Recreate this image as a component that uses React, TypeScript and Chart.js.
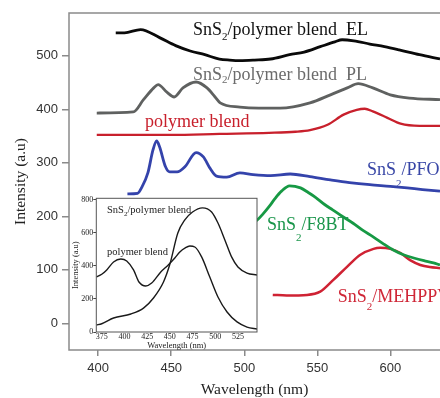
import React, { useEffect, useRef } from 'react';
import { Chart, registerables } from 'chart.js';

Chart.register(...registerables);

// ---- main chart data ----
const xTicks = [400, 450, 500, 550, 600];
const yTicks = [0, 100, 200, 300, 400, 500];

const elX = [412, 418, 429, 442, 453, 463, 473, 483, 490, 497, 507, 518, 531, 541, 552, 562, 567, 575, 586, 596, 606, 620, 634];
const elY = [543, 543, 549, 534, 519, 509, 502, 494, 492, 491, 492, 494, 502, 507, 517, 526, 530, 528, 522, 517, 511, 502, 494];

const plX = [399, 424, 431, 438, 441, 447, 452, 458, 467, 474.5, 480, 483.5, 497, 510, 524.5, 545, 559, 570.5, 578, 588, 600, 613, 634];
const plY = [393, 395, 418, 440, 446, 432, 423, 440, 451, 440, 423, 412, 404, 402, 402, 412, 427, 440, 448, 440, 427, 421, 418];

const blendX = [399, 450, 483, 517, 535, 545, 557, 568, 577, 582.5, 588, 598, 607, 620, 634];
const blendY = [352, 352, 354, 356, 358, 361, 371, 390, 399, 401, 396, 384, 373, 369, 369];

const pfoX = [420, 427, 430, 434, 437.5, 440, 442, 446, 449, 454, 459.5, 467, 472, 476.5, 481, 488, 497, 506, 518, 531.5, 545, 559, 572, 586, 600, 611.5, 622, 634];
const pfoY = [242, 243, 255, 281, 324, 341, 330, 293, 283, 283, 293, 319, 311, 290, 275, 273, 281, 278, 276, 279, 274, 268, 263, 259, 256, 253, 250, 247];

const f8btX = [505, 508.5, 513, 517.5, 521, 525.5, 531, 538.5, 544, 549, 555, 560.5, 567, 574.5, 581, 588, 595, 602, 609, 616, 623, 629.5, 634];
const f8btY = [186, 192, 205, 220, 233, 247, 257, 253, 244, 235, 222, 212, 200, 187, 174, 162, 149, 137, 128, 122, 117, 113, 109];

const mehX = [519.5, 529, 543, 552, 561, 570.5, 579.5, 588.5, 593, 600, 607, 613.5, 620.5, 627, 634];
const mehY = [53, 52, 53, 59, 81, 106, 128, 139, 141, 139, 131, 118, 109, 105, 103];

// ---- inset data ----
const insetXTicks = [375, 400, 425, 450, 475, 500, 525];
const insetYTicks = [0, 200, 400, 600, 800];

const insetAX = [369, 375, 380.5, 388, 396, 402.5, 410, 416, 423.5, 430, 440, 448, 455.5, 461, 467, 472, 477.5, 485, 494, 503, 513, 524, 535, 546];
const insetAY = [333, 350, 376, 424, 442, 430, 376, 303, 279, 297, 364, 405, 448, 485, 510, 521, 515, 455, 333, 212, 121, 61, 30, 18];

const insetBX = [369, 375, 388, 407, 421, 432, 443, 450, 458.8, 466.5, 475, 486, 496, 503, 510.6, 518, 525, 535, 546];
const insetBY = [42, 50, 85, 109, 145, 206, 303, 410, 600, 679, 727, 752, 727, 660, 558, 455, 394, 357, 345];

// ---- text labels (anchor = left / baseline, in data units) ----
const mainLabels = [
  { pre: 'SnS', sub: '2', post: '/polymer blend  EL', x: 464.9, y: 538, color: '#111111', drop: 4.5 },
  { pre: 'SnS', sub: '2', post: '/polymer blend  PL', x: 464.9, y: 455, color: '#6b6b6b', drop: 3 },
  { pre: '', sub: '', post: 'polymer blend', x: 432, y: 366, color: '#c8202c', drop: 0 },
  { pre: 'SnS', sub: '2', post: '/PFO', x: 584, y: 277, color: '#3846a6', drop: 12 },
  { pre: 'SnS', sub: '2', post: '/F8BT', x: 515.6, y: 174, color: '#19954a', drop: 11 },
  { pre: 'SnS', sub: '2', post: '/MEHPPV', x: 564, y: 40, color: '#cf2636', drop: 8 },
];

const insetLabels = [
  { pre: 'SnS', sub: '2', post: '/polymer blend', x: 380.8, y: 718, color: '#222222', drop: 3 },
  { pre: '', sub: '', post: 'polymer blend', x: 380.8, y: 464, color: '#222222', drop: 0 },
];

const pts = (xs: number[], ys: number[]) => xs.map((x, i) => ({ x, y: ys[i] }));

function drawLabels(chart: any, labels: any[], mainFont: string, subFont: string) {
  const ctx = chart.ctx;
  const xs = chart.scales.x;
  const ys = chart.scales.y;
  ctx.save();
  ctx.textAlign = 'left';
  ctx.textBaseline = 'alphabetic';
  for (const lab of labels) {
    let px = xs.getPixelForValue(lab.x);
    const py = ys.getPixelForValue(lab.y);
    ctx.fillStyle = lab.color;
    if (lab.pre) {
      ctx.font = mainFont;
      ctx.fillText(lab.pre, px, py);
      px += ctx.measureText(lab.pre).width;
    }
    if (lab.sub) {
      ctx.font = subFont;
      ctx.fillText(lab.sub, px, py + lab.drop);
      px += ctx.measureText(lab.sub).width;
    }
    ctx.font = mainFont;
    ctx.fillText(lab.post, px, py);
  }
  ctx.restore();
}

const lineDs = (label: string, xs: number[], ys: number[], color: string, width: number) => ({
  label,
  data: pts(xs, ys),
  borderColor: color,
  backgroundColor: color,
  borderWidth: width,
  pointRadius: 0,
  fill: false,
  cubicInterpolationMode: 'monotone' as const,
});

export default function App() {
  const mainRef = useRef<HTMLCanvasElement>(null);
  const insetRef = useRef<HTMLCanvasElement>(null);

  useEffect(() => {
    const framePlugin = {
      id: 'mainFrame',
      afterDraw(chart: any) {
        const { ctx, chartArea } = chart;
        ctx.save();
        ctx.strokeStyle = '#8a8a8a';
        ctx.lineWidth = 1.5;
        ctx.strokeRect(chartArea.left, chartArea.top, chartArea.right - chartArea.left + 20, chartArea.bottom - chartArea.top);
        ctx.restore();
        drawLabels(chart, mainLabels, '18px "Liberation Serif"', '11px "Liberation Serif"');
      },
    };

    const main = new Chart(mainRef.current as HTMLCanvasElement, {
      type: 'line',
      data: {
        datasets: [
          lineDs('EL', elX, elY, '#0a0a0a', 2.8),
          lineDs('PL', plX, plY, '#5f6160', 2.8),
          lineDs('blend', blendX, blendY, '#c8202c', 2.3),
          lineDs('PFO', pfoX, pfoY, '#3443ab', 2.8),
          lineDs('F8BT', f8btX, f8btY, '#179944', 2.8),
          lineDs('MEHPPV', mehX, mehY, '#cf2233', 2.5),
        ],
      },
      options: {
        animation: false,
        responsive: false,
        layout: { padding: { top: 13, left: 0, right: 0, bottom: 0 } },
        plugins: { legend: { display: false }, tooltip: { enabled: false }, title: { display: false } },
        scales: {
          x: {
            type: 'linear',
            min: 380,
            max: 634,
            afterBuildTicks: (s: any) => { s.ticks = xTicks.map((v) => ({ value: v })); },
            afterFit: (s: any) => { s.height = 48; },
            grid: { display: true, drawOnChartArea: false, drawTicks: true, tickLength: 6, color: '#8a8a8a', lineWidth: 1.5 },
            border: { display: false },
            ticks: { padding: 5, color: '#333333', maxRotation: 0, font: { size: 13, family: 'Liberation Sans' } },
            title: {
              display: true,
              text: 'Wavelength (nm)',
              color: '#222222',
              font: { size: 15.5, family: 'Liberation Serif', lineHeight: 1 },
              padding: { top: 0, bottom: 0 },
            },
          },
          y: {
            type: 'linear',
            min: -50,
            max: 580,
            afterBuildTicks: (s: any) => { s.ticks = yTicks.map((v) => ({ value: v })); },
            afterFit: (s: any) => { s.width = 69; },
            grid: { display: true, drawOnChartArea: false, drawTicks: true, tickLength: 7, color: '#8a8a8a', lineWidth: 1.5 },
            border: { display: false },
            ticks: { padding: 4, color: '#333333', font: { size: 13, family: 'Liberation Sans' } },
            title: {
              display: true,
              text: 'Intensity (a.u)',
              color: '#222222',
              font: { size: 15.5, family: 'Liberation Serif' },
              padding: { top: 11.7, bottom: 4 },
            },
          },
        },
      },
      plugins: [framePlugin],
    } as any);

    const insetPlugin = {
      id: 'insetFrame',
      beforeDraw(chart: any) {
        const { ctx, chartArea } = chart;
        ctx.save();
        ctx.fillStyle = '#ffffff';
        ctx.fillRect(chartArea.left, chartArea.top, chartArea.right - chartArea.left, chartArea.bottom - chartArea.top);
        ctx.restore();
      },
      afterDraw(chart: any) {
        const { ctx, chartArea } = chart;
        ctx.save();
        ctx.strokeStyle = '#555555';
        ctx.lineWidth = 1;
        ctx.strokeRect(chartArea.left, chartArea.top, chartArea.right - chartArea.left, chartArea.bottom - chartArea.top);
        ctx.restore();
        drawLabels(chart, insetLabels, '10.5px "Liberation Serif"', '7px "Liberation Serif"');
      },
    };

    const inset = new Chart(insetRef.current as HTMLCanvasElement, {
      type: 'line',
      data: {
        datasets: [
          lineDs('A', insetAX, insetAY, '#1a1a1a', 1.4),
          lineDs('B', insetBX, insetBY, '#1a1a1a', 1.4),
        ],
      },
      options: {
        animation: false,
        responsive: false,
        layout: { padding: { top: 10.3, left: 0, right: 3, bottom: 0 } },
        plugins: { legend: { display: false }, tooltip: { enabled: false }, title: { display: false } },
        scales: {
          x: {
            type: 'linear',
            min: 369,
            max: 546,
            afterBuildTicks: (s: any) => { s.ticks = insetXTicks.map((v) => ({ value: v })); },
            afterFit: (s: any) => { s.height = 18; },
            grid: { display: false, drawTicks: false },
            border: { display: false },
            ticks: { padding: 0, color: '#222222', maxRotation: 0, font: { size: 8, family: 'Liberation Serif' } },
            title: {
              display: true,
              text: 'Wavelength (nm)',
              color: '#222222',
              font: { size: 8.5, family: 'Liberation Serif', lineHeight: 1 },
              padding: { top: 0, bottom: 0 },
            },
          },
          y: {
            type: 'linear',
            min: 0,
            max: 810,
            afterBuildTicks: (s: any) => { s.ticks = insetYTicks.map((v) => ({ value: v })); },
            afterFit: (s: any) => { s.width = 26.3; },
            grid: { display: true, drawOnChartArea: false, drawTicks: true, tickLength: 3, color: '#444444' },
            border: { display: false },
            ticks: { padding: 0, color: '#222222', font: { size: 8, family: 'Liberation Serif' } },
            title: {
              display: true,
              text: 'Intensity (a.u)',
              color: '#222222',
              font: { size: 8.5, family: 'Liberation Serif' },
              padding: { top: 1, bottom: 0 },
            },
          },
        },
      },
      plugins: [insetPlugin],
    } as any);

    return () => {
      main.destroy();
      inset.destroy();
    };
  }, []);

  return (
    <div style={{ position: 'fixed', left: 0, top: 0, width: 440, height: 398, overflow: 'hidden', background: '#ffffff' }}>
      <canvas ref={mainRef} width={440} height={398} style={{ position: 'absolute', left: 0, top: 0, width: 440, height: 398 }} />
      <canvas ref={insetRef} width={190} height={162} style={{ position: 'absolute', left: 70, top: 188, width: 190, height: 162 }} />
    </div>
  );
}
